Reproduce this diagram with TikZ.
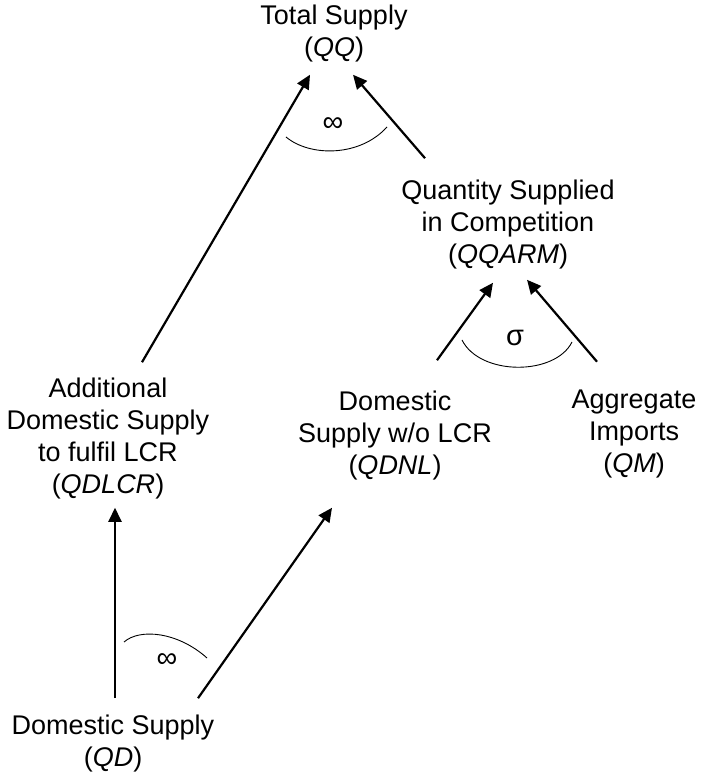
\documentclass[tikz,border=0pt]{standalone}
\usepackage{fontspec}
\setmainfont{Liberation Sans}
\usetikzlibrary{arrows.meta}

\tikzset{
    varbox/.style={align=center, inner sep=0pt, font=\fontsize{27}{32}\selectfont},
    supplyarrow/.style={line width=2.2pt, -{Triangle[length=14pt, width=13pt]}},
    elasarc/.style={line width=0.9pt},
    elastext/.style={inner sep=0pt, font=\fontsize{29}{32}\selectfont}
}

\begin{document}
\begin{tikzpicture}[x=1pt, y=1pt]
    \useasboundingbox (0,0) rectangle (701,775);

    % supply variables
    \node[varbox] (total) at (334,741) {Total Supply\\(\textit{QQ})};
    \node[varbox] (qqarm) at (508,550) {Quantity Supplied\\in Competition\\(\textit{QQARM})};
    \node[varbox] (addl) at (108,336) {Additional\\Domestic Supply\\to fulfil LCR\\(\textit{QDLCR})};
    \node[varbox] (qdnl) at (395,339) {Domestic\\Supply w/o LCR\\(\textit{QDNL})};
    \node[varbox] (qm) at (634,341) {Aggregate\\Imports\\(\textit{QM})};
    \node[varbox] (qd) at (113,31) {Domestic Supply\\(\textit{QD})};

    % aggregation arrows
    \draw[supplyarrow] ([shift={(34pt,16pt)}]addl.north) -- ([shift={(-24pt,-12pt)}]total.south);
    \draw[supplyarrow] ([shift={(-83pt,22pt)}]qqarm.north) -- ([shift={(19pt,-12pt)}]total.south);
    \draw[supplyarrow] ([shift={(42pt,31pt)}]qdnl.north) -- ([shift={(-15pt,-13pt)}]qqarm.south);
    \draw[supplyarrow] ([shift={(-37pt,28pt)}]qm.north) -- ([shift={(19pt,-10pt)}]qqarm.south);
    \draw[supplyarrow] ([shift={(2pt,17pt)}]qd.north) -- ([shift={(7pt,-8pt)}]addl.south);
    \draw[supplyarrow] ([shift={(85pt,17pt)}]qd.north) -- ([shift={(-63pt,-27pt)}]qdnl.south);

    % elasticities
    \draw[elasarc] (286,638) .. controls (310,618) and (360,618) .. (387,648);
    \node[elastext] (infqq) at (333,650) {∞};
    \draw[elasarc] (462,435) .. controls (480,399) and (555,399) .. (572,433);
    \node[elastext] (sigqq) at (515,437) {σ};
    \draw[elasarc] (124,133) .. controls (140,147) and (178,143) .. (207,117);
    \node[elastext] (infqd) at (167,114) {∞};
\end{tikzpicture}
\end{document}
